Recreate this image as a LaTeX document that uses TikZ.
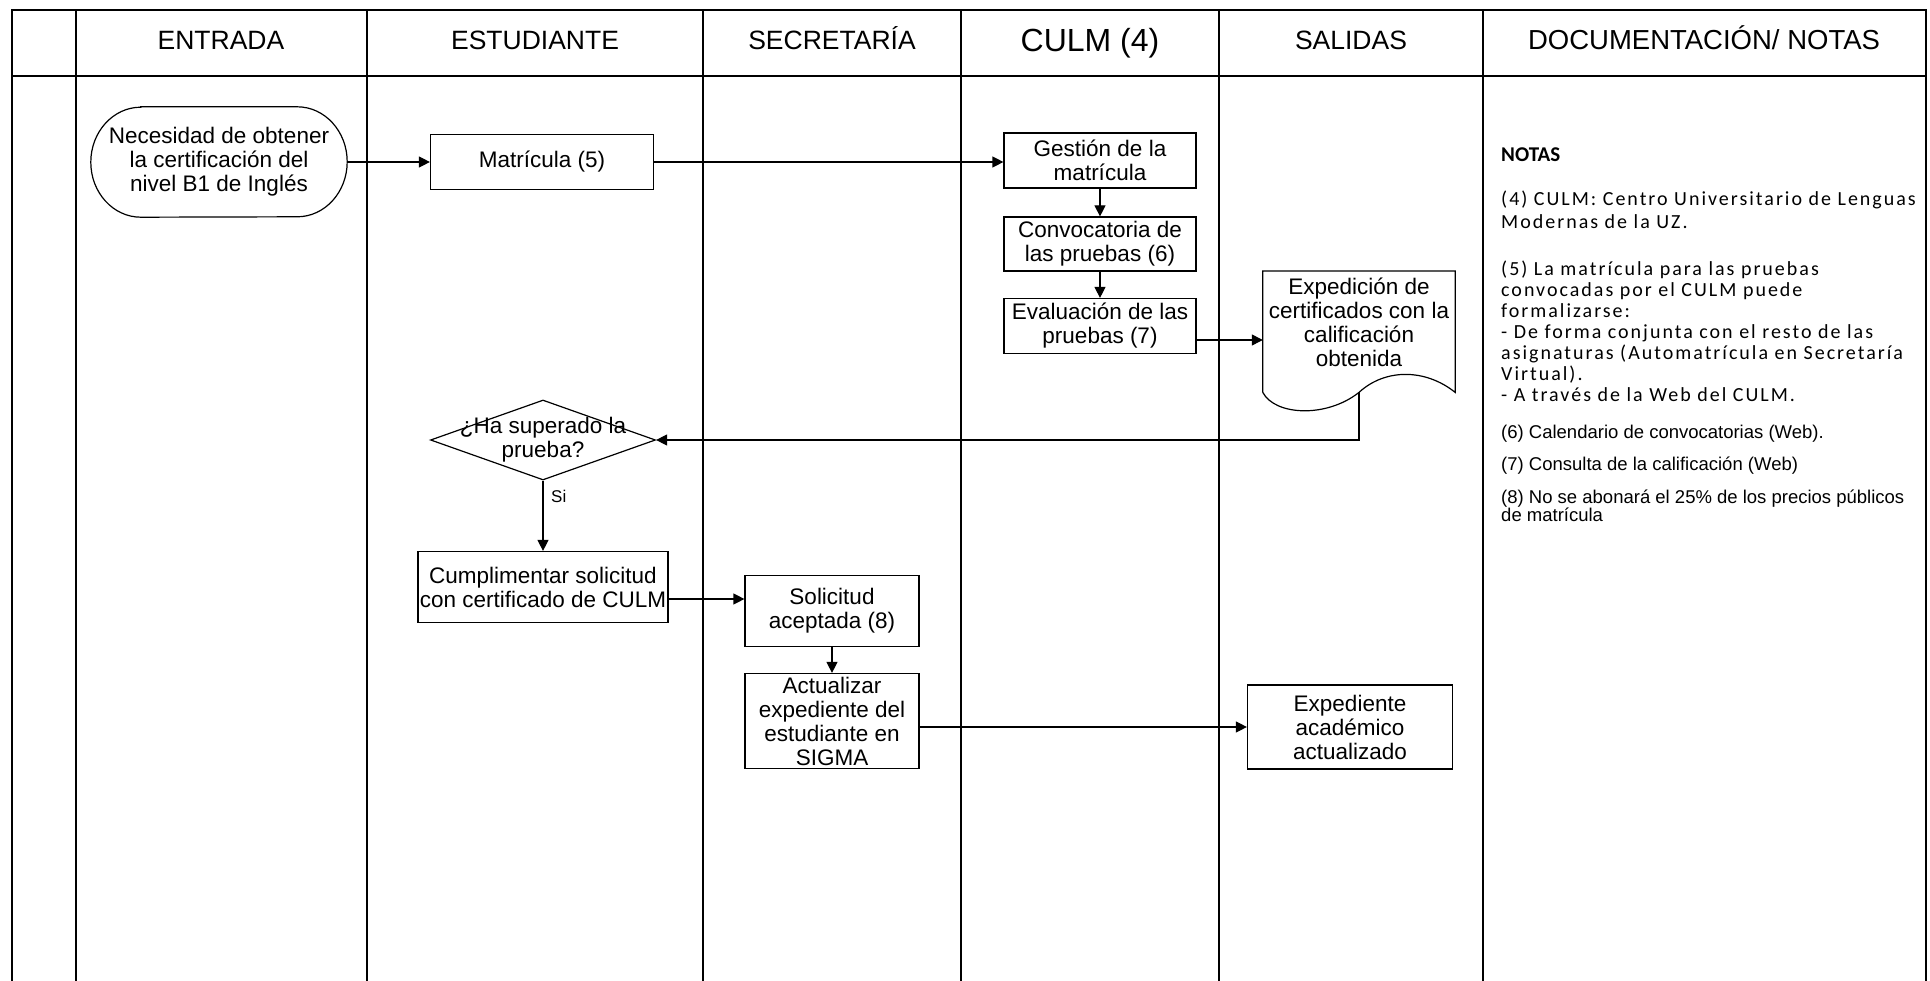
\documentclass[tikz,border=0pt]{standalone}
\usepackage{fontspec}
\setmainfont{Liberation Sans}
\newfontfamily\notefont[LetterSpace=10]{Carlito}
\newfontfamily\noteboldfont{Carlito}
\usetikzlibrary{arrows.meta,shapes.geometric,calc}
\begin{document}
\begin{tikzpicture}[x=1pt,y=1pt,
  lane/.style={line width=1.7pt},
  shp/.style={draw, line width=1.2pt},
  txt/.style={font=\fontsize{22.5}{24}\selectfont, align=center},
  box/.style={shp, txt, inner sep=0pt},
  arr/.style={line width=1.2pt, -{Triangle[length=11pt,width=11pt]}},
  hdr/.style={anchor=base, font=\fontsize{26.5}{30}\selectfont},
  ncal/.style={anchor=base west, inner sep=0pt, font=\notefont\fontsize{20}{23}\selectfont},
  nari/.style={anchor=base west, inner sep=0pt, font=\fontsize{18.5}{22}\selectfont},
]
\useasboundingbox (0,0) rectangle (1930,-981);
\fill[white] (0,0) rectangle (1930,-981);

% swimlane frame
\draw[lane] (12,-981) -- (12,-10) -- (1926,-10) -- (1926,-981);
\draw[lane] (12,-76) -- (1926,-76);
\foreach \x in {76,367,703,961,1219,1483} \draw[lane] (\x,-10) -- (\x,-981);

% headers
\node[hdr] (h1) at (221,-50) {ENTRADA};
\node[hdr] (h2) at (535,-50) {ESTUDIANTE};
\node[hdr] (h3) at (832,-50) {SECRETARÍA};
\node[anchor=base, font=\fontsize{32}{36}\selectfont] (h4) at (1090,-52) {CULM (4)};
\node[hdr] (h5) at (1351,-50) {SALIDAS};
\node[hdr, font=\fontsize{27.5}{30}\selectfont] (h6) at (1704,-50) {DOCUMENTACIÓN/ NOTAS};

% start terminator
\node[txt, minimum width=256pt, minimum height=110pt, inner sep=0pt] (start) at (219,-162)
  {Necesidad de obtener\\la certificación del\\nivel B1 de Inglés};
\draw[shp] ([xshift=50pt]start.north west) -- ([xshift=-50pt]start.north east)
  arc[start angle=90, end angle=-90, x radius=50pt, y radius=55pt]
  -- ([xshift=50pt]start.south west)
  arc[start angle=270, end angle=90, x radius=50pt, y radius=55pt] -- cycle;

% boxes
\node[box, minimum width=223pt, minimum height=55pt] (mat) at (542,-162) {Matrícula (5)};
\node[box, minimum width=192pt, minimum height=55pt] (ges) at (1100,-160.5) {Gestión de la\\matrícula};
\node[box, minimum width=192pt, minimum height=54pt] (conv) at (1100,-244) {Convocatoria de\\las pruebas (6)};
\node[box, minimum width=192pt, minimum height=55pt] (eva) at (1100,-326) {Evaluación de las\\pruebas (7)};

% document shape
\node[minimum width=192pt, minimum height=121pt, inner sep=0pt, anchor=north] (doc) at (1359,-271) {};
\draw[shp] (doc.south west) -- (doc.north west) -- (doc.north east) -- (doc.south east)
  .. controls +(-30,24) and +(26,24) .. (doc.south)
  .. controls +(-33,-26) and +(12,-23) .. (doc.south west);
\node[txt] (doct) at (1359,-322) {Expedición de\\certificados con la\\calificación\\obtenida};

% decision
\node[diamond, shp, minimum width=225pt, minimum height=80pt, inner sep=0pt,
  label={[txt]center:{¿Ha superado la\\prueba?}}] (dec) at (543,-440) {};
\node[anchor=west, inner sep=0pt, font=\fontsize{17}{20}\selectfont] (si) at (551,-496) {Si};

\node[box, minimum width=250pt, minimum height=71pt] (cum) at (543,-587) {Cumplimentar solicitud\\con certificado de CULM};
\node[box, minimum width=174pt, minimum height=71pt] (sol) at (832,-611) {Solicitud\\aceptada (8)};
\node[box, minimum width=174pt, minimum height=95pt] (act) at (832,-721) {Actualizar\\expediente del\\estudiante en\\SIGMA};
\node[box, minimum width=205pt, minimum height=84pt] (exp) at (1350,-727) {Expediente\\académico\\actualizado};

% connectors
\draw[arr] (start.east |- mat.west) -- (mat.west);
\draw[arr] (mat.east) -- (mat.east -| ges.west);
\draw[arr] (ges) -- (conv);
\draw[arr] (conv) -- (eva);
\draw[arr] ([yshift=-14pt]eva.east) -- ([yshift=-14pt]eva.east -| doc.west);
\draw[arr] (doc.south) |- (dec.east);
\draw[arr] (dec.south) -- (cum.north);
\draw[arr] ([yshift=-12pt]cum.east) -- ([yshift=-12pt]cum.east -| sol.west);
\draw[arr] (sol) -- (act);
\draw[arr] (act.east |- exp.west) -- (exp.west);

% notes
\node[anchor=base west, inner sep=0pt, font=\noteboldfont\bfseries\fontsize{21}{24}\selectfont] (nt) at (1501,-162) {NOTAS};
\node[ncal] (n4a) at (1501,-206) {(4) CULM: Centro Universitario de Lenguas};
\node[ncal] (n4b) at (1501,-229) {Modernas de la UZ.};
\node[ncal] (n5a) at (1501,-276) {(5) La matrícula para las pruebas};
\node[ncal] (n5b) at (1501,-297) {convocadas por el CULM puede};
\node[ncal] (n5c) at (1501,-318) {formalizarse:};
\node[ncal] (n5d) at (1501,-339) {- De forma conjunta con el resto de las};
\node[ncal] (n5e) at (1501,-360) {asignaturas (Automatrícula en Secretaría};
\node[ncal] (n5f) at (1501,-381) {Virtual).};
\node[ncal] (n5g) at (1501,-402) {- A través de la Web del CULM.};
\node[nari] (n6) at (1501,-438) {(6) Calendario de convocatorias (Web).};
\node[nari] (n7) at (1501,-470) {(7) Consulta de la calificación (Web)};
\node[nari] (n8a) at (1501,-503) {(8) No se abonará el 25\% de los precios públicos};
\node[nari] (n8b) at (1501,-521) {de matrícula};
\end{tikzpicture}
\end{document}
